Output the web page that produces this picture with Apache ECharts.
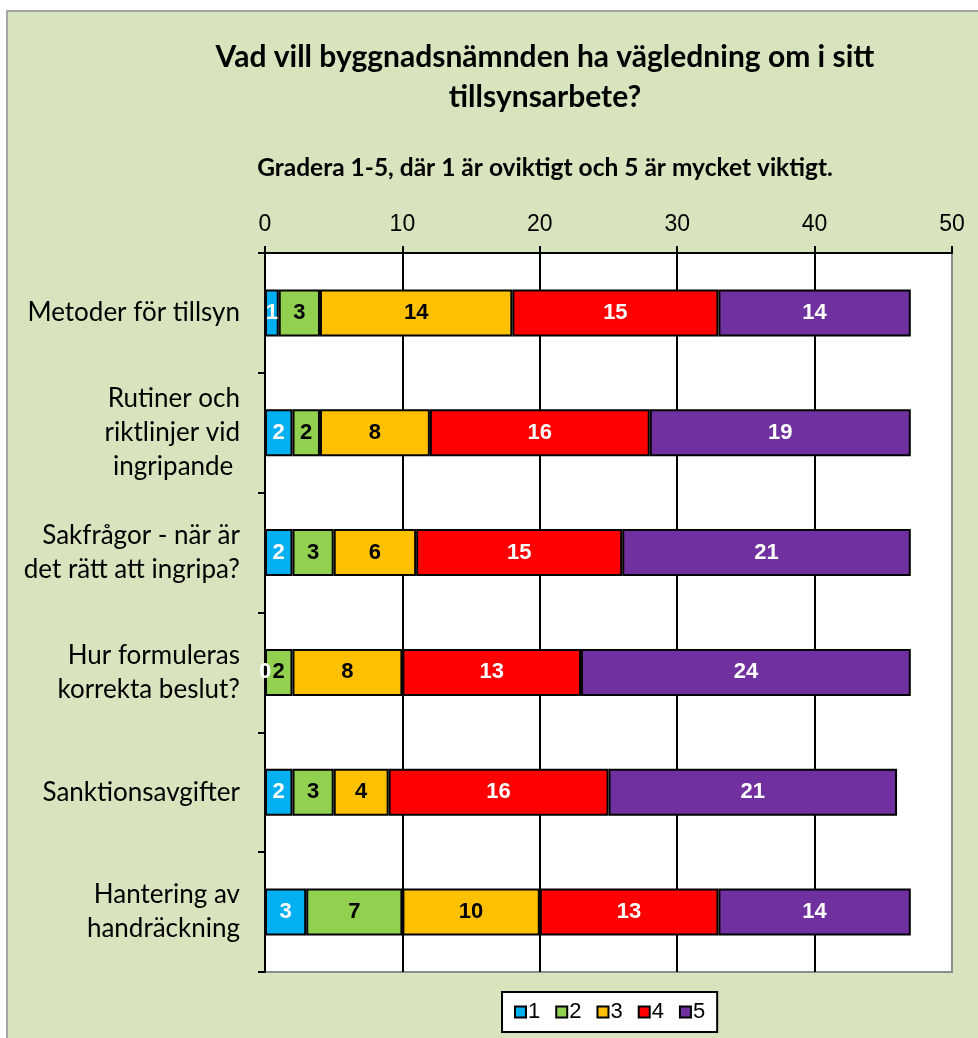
<!DOCTYPE html>
<html>
<head>
<meta charset="utf-8">
<script src="https://cdn.jsdelivr.net/npm/echarts@6/dist/echarts.min.js"></script>
<style>
html,body{margin:0;padding:0;background:#fff;}
#chart{width:978px;height:1038px;}
</style>
</head>
<body>
<div id="chart"></div>
<script>
const categories = [
  'Metoder för tillsyn',
  'Rutiner och\nriktlinjer vid\ningripande ',
  'Sakfrågor - när är\ndet rätt att ingripa?',
  'Hur formuleras\nkorrekta beslut?',
  'Sanktionsavgifter',
  'Hantering av\nhandräckning'
];
const seriesNames = ['1', '2', '3', '4', '5'];
const s1 = [1, 2, 2, 0, 2, 3];
const s2 = [3, 2, 3, 2, 3, 7];
const s3 = [14, 8, 6, 8, 4, 10];
const s4 = [15, 16, 15, 13, 16, 13];
const s5 = [14, 19, 21, 24, 21, 14];
const xTicks = [0, 10, 20, 30, 40, 50];

const colors = ['#00B0F0', '#92D050', '#FFC000', '#FF0000', '#7030A0'];
const labelColors = ['#fff', '#000', '#000', '#fff', '#fff'];
const values = [s1, s2, s3, s4, s5];

const chart = echarts.init(document.getElementById('chart'), null, {renderer: 'canvas'});

const series = values.map((v, i) => ({
  name: seriesNames[i],
  type: 'bar',
  stack: 'total',
  data: v,
  barWidth: 47,
  itemStyle: {color: colors[i], borderColor: '#000', borderWidth: 2},
  label: {
    show: true,
    position: 'inside',
    color: labelColors[i],
    fontFamily: 'Liberation Sans, Arial, sans-serif',
    fontWeight: 'bold',
    fontSize: 22
  },
  emphasis: {disabled: true},
  animation: false
}));

chart.setOption({
  animation: false,
  backgroundColor: '#fff',
  color: colors,
  graphic: [{
    type: 'rect',
    z: -10,
    shape: {x: 7, y: 11, width: 990, height: 1050},
    style: {fill: '#D7E4BD', stroke: '#A6A6A6', lineWidth: 2}
  }],
  title: [{
    text: 'Vad vill byggnadsnämnden ha vägledning om i sitt\ntillsynsarbete?',
    left: 545,
    top: 37,
    padding: 0,
    textAlign: 'center',
    textStyle: {fontFamily: 'Lato', fontWeight: 'bold', fontSize: 30, lineHeight: 40, color: '#000'}
  }, {
    text: 'Gradera 1-5, där 1 är oviktigt och 5 är mycket viktigt.',
    left: 545,
    top: 156,
    padding: 0,
    textAlign: 'center',
    textStyle: {fontFamily: 'Lato', fontWeight: 'bold', fontSize: 24.5, color: '#000'}
  }],
  legend: {
    data: seriesNames,
    left: 502,
    top: 992,
    orient: 'horizontal',
    backgroundColor: '#fff',
    borderColor: '#000',
    borderWidth: 2,
    padding: [9, 12, 9, 12],
    itemWidth: 11,
    itemHeight: 11,
    itemGap: 15,
    icon: 'rect',
    itemStyle: {borderColor: '#000', borderWidth: 2},
    textStyle: {fontFamily: 'Liberation Sans, Arial, sans-serif', fontSize: 22, color: '#000', padding: [0, 0, 0, -3]},
    selectedMode: false
  },
  grid: {
    left: 265, right: 26, top: 253, bottom: 66,
    show: true,
    backgroundColor: '#fff',
    borderColor: '#8C8C8C',
    borderWidth: 2
  },
  xAxis: {
    type: 'value',
    position: 'top',
    min: xTicks[0],
    max: xTicks[xTicks.length - 1],
    interval: 10,
    axisLine: {show: true, lineStyle: {color: '#000', width: 2}},
    axisTick: {show: true, inside: false, length: 7, lineStyle: {color: '#000', width: 2}},
    axisLabel: {
      fontFamily: 'Liberation Sans, Arial, sans-serif',
      fontSize: 23,
      color: '#000',
      margin: 17
    },
    splitLine: {show: true, lineStyle: {color: ['#000', '#000', '#000', '#000', '#000', '#8C8C8C'], width: 2}}
  },
  yAxis: {
    type: 'category',
    data: categories,
    inverse: true,
    axisLine: {show: true, lineStyle: {color: '#000', width: 2}},
    axisTick: {show: true, inside: false, length: 7, alignWithLabel: false, lineStyle: {color: '#000', width: 2}},
    axisLabel: {
      fontFamily: 'Lato',
      fontSize: 26,
      lineHeight: 34,
      color: '#000',
      margin: 25,
      align: 'right'
    },
    splitLine: {show: false}
  },
  series: series
});
</script>
</body>
</html>
